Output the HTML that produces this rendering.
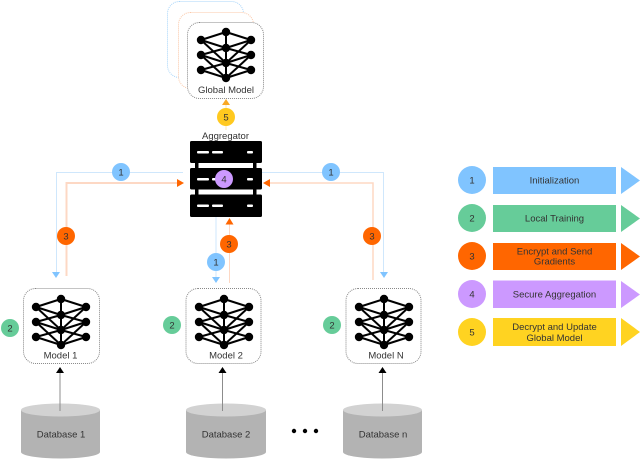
<!DOCTYPE html>
<html><head><meta charset="utf-8">
<style>
html,body{margin:0;padding:0;background:#fff}
svg{display:block}
text{font-family:"Liberation Sans",sans-serif;fill:#333;text-anchor:middle}
</style></head>
<body>
<svg width="640" height="459" viewBox="0 0 640 459" xmlns="http://www.w3.org/2000/svg">
<defs>
<g id="net">
<g stroke="#000" stroke-width="2" fill="none">
<path d="M0 0V46M0 0L-25 8M0 0L25 8M-25 8L0 16M25 8L0 16M-25 8L0 31M25 8L0 31M-25 23L0 16M25 23L0 16M-25 23L0 31M25 23L0 31M-25 23L0 46M25 23L0 46M-25 38L0 31M25 38L0 31M-25 38L0 46M25 38L0 46"/>
</g>
<g fill="#000">
<circle cx="0" cy="0" r="4.200"/><circle cx="0" cy="16" r="4.200"/><circle cx="0" cy="31" r="4.200"/><circle cx="0" cy="46" r="4.200"/>
<circle cx="-25" cy="8" r="4.200"/><circle cx="-25" cy="23" r="4.200"/><circle cx="-25" cy="38" r="4.200"/>
<circle cx="25" cy="8" r="4.200"/><circle cx="25" cy="23" r="4.200"/><circle cx="25" cy="38" r="4.200"/>
</g>
</g>
</defs>

<!-- global model stack -->
<rect x="167.500" y="1.500" width="76" height="76" rx="12" fill="#fff" stroke="#a8d5fa" stroke-width="1" stroke-dasharray="1 1"/>
<rect x="178.500" y="12.500" width="75" height="76" rx="12" fill="#fff" stroke="#fbc8a8" stroke-width="1" stroke-dasharray="1 1"/>
<rect x="187.500" y="22.500" width="76" height="76" rx="12" fill="#fff" stroke="#888" stroke-width="1" stroke-dasharray="1 1"/>
<use href="#net" x="226" y="32"/>
<text x="226" y="93" font-size="9.500">Global Model</text>

<line x1="226" y1="104" x2="226" y2="130" stroke="#fde9b0" stroke-width="1"/>
<polygon points="226,99 222,105 230,105" fill="#f9a825"/>
<circle cx="226" cy="117" r="9" fill="#ffc91f"/>
<text x="226" y="120.500" font-size="9.500">5</text>

<text x="225.500" y="139" font-size="9.500">Aggregator</text>

<!-- connector lines -->
<path d="M183 172.500H56.500V272" fill="none" stroke="#cfe7fc" stroke-width="1"/>
<path d="M262 172.500H383.500V273" fill="none" stroke="#cfe7fc" stroke-width="1"/>
<path d="M178 183H66.500V276" fill="none" stroke="#fdd8c4" stroke-width="2"/>
<path d="M270 183H373V280" fill="none" stroke="#fdd8c4" stroke-width="1.500"/>
<line x1="216" y1="217" x2="216" y2="277" stroke="#cfe7fc" stroke-width="1"/>
<line x1="229.500" y1="224" x2="229.500" y2="283" stroke="#fdd8c4" stroke-width="1"/>

<polygon points="177,179 184,183 177,187" fill="#ff6600"/>
<polygon points="270,179 263,183 270,187" fill="#ff6600"/>
<polygon points="225.500,224.500 233.500,224.500 229.500,218" fill="#ff6600"/>
<polygon points="52,272 60,272 56,278" fill="#80c4ff"/>
<polygon points="380,272 388,272 384,278" fill="#80c4ff"/>
<polygon points="212,277 220,277 216,283" fill="#80c4ff"/>

<!-- server -->
<g fill="#000">
<rect x="195" y="160" width="3.500" height="36"/>
<rect x="253" y="160" width="3.500" height="36"/>
<rect x="190" y="141" width="72" height="22" rx="1.500"/>
<rect x="190" y="168" width="72" height="21.500" rx="1.500"/>
<rect x="190" y="194.500" width="72" height="22.500" rx="1.500"/>
</g>
<g fill="#fff">
<rect x="197" y="151" width="12" height="2.500" rx="1"/><rect x="212" y="151" width="11" height="2.500" rx="1"/><rect x="247" y="151" width="6" height="2.500" rx="1"/>
<rect x="197" y="178" width="12" height="2.500" rx="1"/><rect x="212" y="178" width="11" height="2.500" rx="1"/><rect x="247" y="178" width="6" height="2.500" rx="1"/>
<rect x="197" y="204.500" width="12" height="2.500" rx="1"/><rect x="212" y="204.500" width="11" height="2.500" rx="1"/><rect x="247" y="204.500" width="6" height="2.500" rx="1"/>
</g>
<circle cx="224" cy="179" r="9" fill="#cc99ff"/>
<text x="224" y="182.500" font-size="9.500">4</text>

<!-- flow circles -->
<circle cx="121" cy="172" r="9" fill="#80c4ff"/><text x="121" y="175.500" font-size="9.500">1</text>
<circle cx="331" cy="172" r="9" fill="#80c4ff"/><text x="331" y="175.500" font-size="9.500">1</text>
<circle cx="216" cy="262" r="9" fill="#80c4ff"/><text x="216" y="265.500" font-size="9.500">1</text>
<circle cx="66" cy="236" r="9" fill="#ff6600"/><text x="66" y="239.500" font-size="9.500">3</text>
<circle cx="372" cy="236" r="9" fill="#ff6600"/><text x="372" y="239.500" font-size="9.500">3</text>
<circle cx="229" cy="244" r="9" fill="#ff6600"/><text x="229" y="247.500" font-size="9.500">3</text>
<circle cx="10" cy="328" r="9" fill="#66cc99"/><text x="10" y="331.500" font-size="9.500">2</text>
<circle cx="172" cy="325" r="9" fill="#66cc99"/><text x="172" y="328.500" font-size="9.500">2</text>
<circle cx="332" cy="325" r="9" fill="#66cc99"/><text x="332" y="328.500" font-size="9.500">2</text>

<!-- models -->
<rect x="23.500" y="288.500" width="76" height="75" rx="12" fill="#fff" stroke="#888" stroke-width="1" stroke-dasharray="1 1"/>
<rect x="186" y="288.500" width="75" height="75" rx="12" fill="#fff" stroke="#888" stroke-width="1" stroke-dasharray="1 1"/>
<rect x="346" y="288.500" width="75" height="75" rx="12" fill="#fff" stroke="#888" stroke-width="1" stroke-dasharray="1 1"/>
<use href="#net" x="61" y="299"/>
<use href="#net" x="224" y="299"/>
<use href="#net" x="384" y="299"/>
<text x="60.500" y="358.500" font-size="9.500">Model 1</text>
<text x="226" y="358.500" font-size="9.500">Model 2</text>
<text x="386" y="358.500" font-size="9.500">Model N</text>

<!-- databases -->
<g>
<path d="M21 410V452A39.500 6.500 0 0 0 100 452V410Z" fill="#b3b3b3"/>
<ellipse cx="60.500" cy="410" rx="39.500" ry="6.500" fill="#d2d2d2"/>
<path d="M186 410V452A40 6.500 0 0 0 266 452V410Z" fill="#b3b3b3"/>
<ellipse cx="226" cy="410" rx="40" ry="6.500" fill="#d2d2d2"/>
<path d="M343 410V452A39.500 6.500 0 0 0 422 452V410Z" fill="#b3b3b3"/>
<ellipse cx="382.500" cy="410" rx="39.500" ry="6.500" fill="#d2d2d2"/>
</g>
<text x="61" y="437.500" font-size="9.500">Database 1</text>
<text x="226" y="437.500" font-size="9.500">Database 2</text>
<text x="383" y="437.500" font-size="9.500">Database n</text>
<g fill="#000"><circle cx="294" cy="431" r="2.200"/><circle cx="305" cy="431" r="2.200"/><circle cx="316" cy="431" r="2.200"/></g>

<!-- up arrows -->
<g stroke="#8c8c8c" stroke-width="1">
<line x1="60" y1="411" x2="60" y2="373"/>
<line x1="222.500" y1="411" x2="222.500" y2="373"/>
<line x1="382.500" y1="411" x2="382.500" y2="373"/>
</g>
<g fill="#000">
<polygon points="60,367 56,373 64,373"/>
<polygon points="222.500,367 218.500,373 226.500,373"/>
<polygon points="382.500,367 378.500,373 386.500,373"/>
</g>

<!-- legend -->
<g>
<circle cx="472" cy="180" r="14" fill="#80c4ff"/><text x="472" y="183.500" font-size="9.500">1</text>
<rect x="493" y="167" width="123" height="27" fill="#80c4ff"/><text x="554.500" y="183.500" font-size="9.500">Initialization</text>
<polygon points="621,167 640,180.500 621,194" fill="#80c4ff"/>

<circle cx="472" cy="218" r="14" fill="#66cc99"/><text x="472" y="221.500" font-size="9.500">2</text>
<rect x="493" y="205" width="123" height="27" fill="#66cc99"/><text x="554.500" y="221.500" font-size="9.500">Local Training</text>
<polygon points="621,205 640,218.500 621,232" fill="#66cc99"/>

<circle cx="472" cy="256" r="14" fill="#ff6600"/><text x="472" y="259.500" font-size="9.500">3</text>
<rect x="493" y="243" width="123" height="27" fill="#ff6600"/><text x="554.500" y="254.500" font-size="9.500">Encrypt and Send</text><text x="554.500" y="264.500" font-size="9.500">Gradients</text>
<polygon points="621,243 640,256.500 621,270" fill="#ff6600"/>

<circle cx="472" cy="294" r="14" fill="#cc99ff"/><text x="472" y="297.500" font-size="9.500">4</text>
<rect x="493" y="280.500" width="123" height="27.500" fill="#cc99ff"/><text x="554.500" y="297.500" font-size="9.500">Secure Aggregation</text>
<polygon points="621,281 640,294.500 621,308" fill="#cc99ff"/>

<circle cx="472" cy="332" r="14" fill="#ffd321"/><text x="472" y="335.500" font-size="9.500">5</text>
<rect x="493" y="318" width="123" height="28" fill="#ffd321"/><text x="554.500" y="330" font-size="9.500">Decrypt and Update</text><text x="554.500" y="341" font-size="9.500">Global Model</text>
<polygon points="621,318 640,332 621,346" fill="#ffd321"/>
</g>
</svg>
</body></html>
